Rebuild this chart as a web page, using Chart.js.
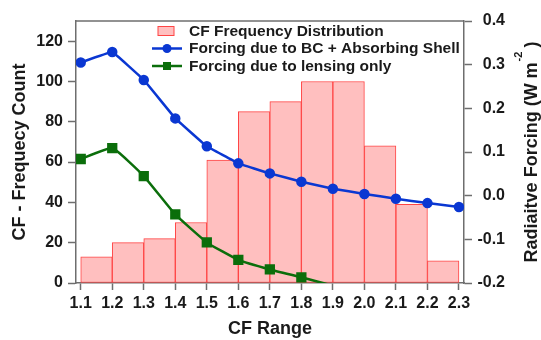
<!DOCTYPE html>
<html>
<head>
<meta charset="utf-8">
<script src="https://cdn.jsdelivr.net/npm/chart.js@4/dist/chart.umd.min.js"></script>
<style>
  html, body { margin: 0; padding: 0; background: #fff; }
  canvas { display: block; }
</style>
</head>
<body>
<canvas id="cfChart" width="541" height="340"></canvas>
<script>
// CF bin edges (also the x tick labels)
const cfRange = [1.1, 1.2, 1.3, 1.4, 1.5, 1.6, 1.7, 1.8, 1.9, 2.0, 2.1, 2.2, 2.3];
// frequency count per bin (1.1-1.2, 1.2-1.3, ...)
const cfFrequency = [13, 20, 22, 30, 61, 85, 90, 100, 100, 68, 39, 11];
// radiative forcing, W m-2, at each CF value
const forcingBcShell = [0.305, 0.329, 0.265, 0.177, 0.113, 0.074, 0.051, 0.032, 0.016, 0.004, -0.007, -0.017, -0.026];
const forcingLensing = [0.084, 0.109, 0.045, -0.043, -0.107, -0.147, -0.169, -0.187, -0.206];

const countTicks = [0, 20, 40, 60, 80, 100, 120];
const forcingTicks = [-0.2, -0.1, 0.0, 0.1, 0.2, 0.3, 0.4];

const legendLabels = ['CF Frequency Distribution', 'Forcing due to BC + Absorbing Shell', 'Forcing due to lensing only'];

const pink = '#ffbfbf';
const red = '#ff4444';
const blue = '#0a37d2';
const green = '#0b6e0b';
const axisGray = '#6e6e6e';
const textColor = '#1a1a1a';

Chart.defaults.font.family = 'Arial, "Liberation Sans", sans-serif';
Chart.defaults.color = textColor;

// bars sit between bin edges
const barData = cfFrequency.map((v, i) => ({ x: (cfRange[i] + cfRange[i + 1]) / 2, y: v }));
const bcData = forcingBcShell.map((v, i) => ({ x: cfRange[i], y: v }));
const lensData = forcingLensing.map((v, i) => ({ x: cfRange[i], y: v }));

// top frame, right title with superscript, and legend inside the plot
const extras = {
    id: 'extras',
    afterDraw(chart) {
        const { ctx, chartArea: a } = chart;
        ctx.save();

        ctx.strokeStyle = axisGray;
        ctx.lineWidth = 1.5;
        ctx.beginPath();
        ctx.moveTo(a.left, a.top);
        ctx.lineTo(a.right, a.top);
        ctx.stroke();

        // right axis title, reads bottom to top
        const bold18 = 'bold 18px Arial, "Liberation Sans", sans-serif';
        const bold11 = 'bold 11px Arial, "Liberation Sans", sans-serif';
        const main = 'Radiaitve Forcing (W m', sup = '-2', tail = ' )';
        ctx.font = bold18;
        const wMain = ctx.measureText(main).width;
        const wTail = ctx.measureText(tail).width;
        ctx.font = bold11;
        const wSup = ctx.measureText(sup).width;
        const total = wMain + wSup + wTail;
        ctx.translate(532, (a.top + a.bottom) / 2);
        ctx.rotate(-Math.PI / 2);
        ctx.fillStyle = textColor;
        ctx.textBaseline = 'middle';
        ctx.textAlign = 'left';
        let x0 = -total / 2;
        ctx.font = bold18;
        ctx.fillText(main, x0, 0);
        ctx.font = bold11;
        ctx.fillText(sup, x0 + wMain + 1, -13);
        ctx.font = bold18;
        ctx.fillText(tail, x0 + wMain + wSup, 0);
        ctx.setTransform(1, 0, 0, 1, 0, 0);

        // legend
        const lx = a.left + 76;
        const rows = [a.top + 10, a.top + 27.5, a.top + 45];
        ctx.font = 'bold 15.5px Arial, "Liberation Sans", sans-serif';
        ctx.textBaseline = 'middle';
        ctx.fillStyle = pink;
        ctx.fillRect(lx + 6, rows[0] - 4.5, 16, 9);
        ctx.strokeStyle = red;
        ctx.lineWidth = 1;
        ctx.strokeRect(lx + 6, rows[0] - 4.5, 16, 9);

        ctx.lineWidth = 2.5;
        ctx.strokeStyle = blue;
        ctx.beginPath(); ctx.moveTo(lx, rows[1]); ctx.lineTo(lx + 30, rows[1]); ctx.stroke();
        ctx.fillStyle = blue;
        ctx.beginPath(); ctx.arc(lx + 15, rows[1], 4.5, 0, Math.PI * 2); ctx.fill();

        ctx.strokeStyle = green;
        ctx.beginPath(); ctx.moveTo(lx, rows[2]); ctx.lineTo(lx + 30, rows[2]); ctx.stroke();
        ctx.fillStyle = green;
        ctx.fillRect(lx + 11, rows[2] - 4, 8, 8);

        ctx.fillStyle = textColor;
        legendLabels.forEach((t, i) => ctx.fillText(t, lx + 37, rows[i] + 0.5));
        ctx.restore();
    }
};

new Chart(document.getElementById('cfChart'), {
    type: 'bar',
    data: {
        datasets: [{
            label: legendLabels[0],
            data: barData,
            yAxisID: 'y',
            backgroundColor: pink,
            borderColor: red,
            borderWidth: 1,
            borderSkipped: false,
            barPercentage: 1,
            categoryPercentage: 1,
            order: 3
        }, {
            type: 'line',
            label: legendLabels[1],
            data: bcData,
            yAxisID: 'y2',
            borderColor: blue,
            backgroundColor: blue,
            borderWidth: 2.5,
            pointRadius: 4,
            pointStyle: 'circle',
            tension: 0.05,
            order: 1
        }, {
            type: 'line',
            label: legendLabels[2],
            data: lensData,
            yAxisID: 'y2',
            borderColor: green,
            backgroundColor: green,
            borderWidth: 2.5,
            pointRadius: [5.5, 5.5, 5.5, 5.5, 5.5, 5.5, 5.5, 5.5, 0],
            pointStyle: 'rect',
            tension: 0.12,
            clip: 0,
            order: 2
        }]
    },
    options: {
        responsive: false,
        animation: false,
        layout: { padding: { top: 21, left: 0, right: 36, bottom: 0 } },
        plugins: {
            legend: { display: false },
            tooltip: { enabled: false }
        },
        scales: {
            x: {
                type: 'linear',
                position: 'bottom',
                offset: false,
                min: 1.085,
                max: 2.316,
                afterBuildTicks: s => { s.ticks = cfRange.map(v => ({ value: v })); },
                afterFit: s => { s.height = 57; },
                ticks: {
                    autoSkip: false,
                    maxRotation: 0,
                    padding: 4,
                    color: textColor,
                    font: { size: 16, weight: 'bold' },
                    callback: v => v.toFixed(1)
                },
                grid: { offset: false, drawOnChartArea: false, tickLength: 7, tickColor: axisGray, tickWidth: 1.5 },
                border: { color: axisGray, width: 1.5 },
                title: {
                    display: true,
                    text: 'CF Range',
                    color: textColor,
                    font: { size: 18, weight: 'bold' },
                    padding: { top: 0, bottom: 0 }
                }
            },
            y: {
                position: 'left',
                min: 0,
                max: 130,
                afterBuildTicks: s => { s.ticks = countTicks.map(v => ({ value: v })); },
                afterFit: s => { s.width = 76; },
                ticks: {
                    padding: 5,
                    color: textColor,
                    font: { size: 16, weight: 'bold' }
                },
                grid: { drawOnChartArea: false, tickLength: 8, tickColor: axisGray, tickWidth: 1.5 },
                border: { color: axisGray, width: 1.5 },
                title: {
                    display: true,
                    text: 'CF - Frequecy Count',
                    color: textColor,
                    font: { size: 18, weight: 'bold' },
                    padding: { top: 9, bottom: 0 }
                }
            },
            y2: {
                position: 'right',
                min: -0.2,
                max: 0.4,
                afterBuildTicks: s => { s.ticks = forcingTicks.map(v => ({ value: v })); },
                afterFit: s => { s.width = 41; },
                ticks: {
                    padding: 6,
                    crossAlign: 'far',
                    color: textColor,
                    font: { size: 16, weight: 'bold' },
                    callback: v => v.toFixed(1)
                },
                grid: { drawOnChartArea: false, tickLength: 8, tickColor: axisGray, tickWidth: 1.5 },
                border: { color: axisGray, width: 1.5 }
            }
        }
    },
    plugins: [extras]
});
</script>
</body>
</html>
